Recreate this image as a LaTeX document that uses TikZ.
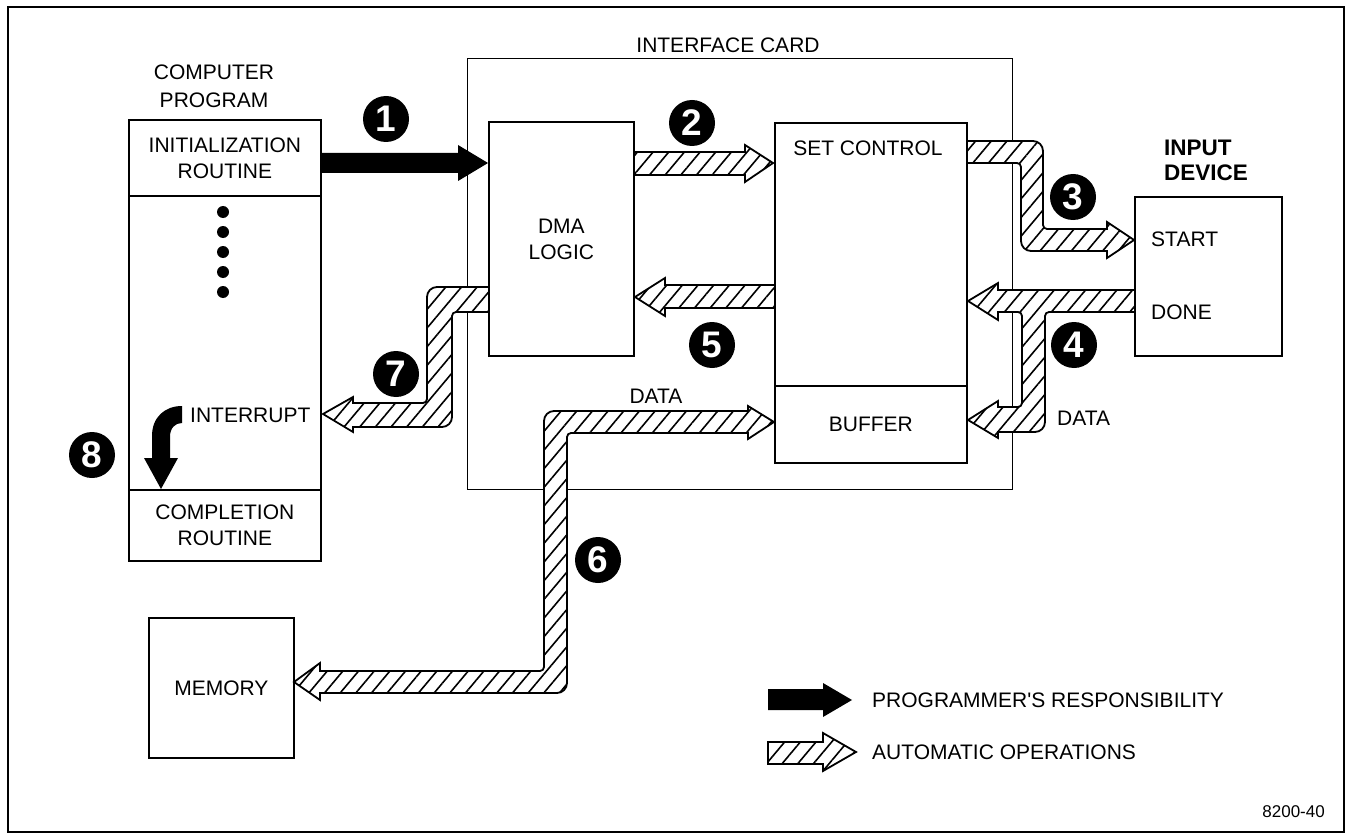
\documentclass[tikz,border=0pt]{standalone}
\usepackage{fontspec}
\setmainfont{Liberation Sans}
\newfontfamily\plainfont{Liberation Sans}[Ligatures=TeXOff]
\usetikzlibrary{patterns.meta}
\newcommand\lblfont{\fontsize{21}{26}\selectfont}
\begin{document}
\begin{tikzpicture}[x=1pt,y=-1pt,
  box/.style={draw, line width=1.8pt, align=center, inner sep=0pt, font=\lblfont, anchor=north west},
  txt/.style={inner sep=0pt, align=center, font=\lblfont},
  num/.style={circle, fill=black, text=white, minimum size=46pt, inner sep=0pt, font=\fontsize{37}{37}\selectfont\bfseries},
  hatch/.style={draw, line width=1.8pt, fill=white, postaction={pattern={Lines[angle=50,distance=12pt,line width=1.6pt]}}},
  solid/.style={fill=black},
  dot/.style={circle, fill=black, minimum size=12pt, inner sep=0pt}
]
\useasboundingbox (0,0) rectangle (1346,837);
\fill[white] (0,0) rectangle (1346,837);
% outer frame
\draw[line width=1.8pt] (8,7) rectangle (1344,832);

% interface card
\node[draw, line width=1.4pt, anchor=north west, minimum width=545pt, minimum height=431pt, inner sep=0pt] (card) at (467,58) {};
\node[txt] (cardlbl) at (728,45) {INTERFACE CARD};

% ---- hatched arrows ----
% 2: DMA -> SET CONTROL
\path[hatch] (633,152) -- (745,152) -- (745,145) -- (773,163) -- (745,182) -- (745,175) -- (633,175);
% 5: SET CONTROL -> DMA
\path[hatch] (774,285) -- (665,285) -- (665,278) -- (635,297) -- (665,316) -- (665,308) -- (774,308);
% 3: SET CONTROL -> START
\path[hatch] (966,141) [rounded corners=10pt] -- (1043,141) -- (1043,190) [rounded corners=4pt] -- (1043,229)
  -- (1080,229) [sharp corners] -- (1107,229) -- (1107,222) -- (1134,240) -- (1107,258) -- (1107,251)
  -- (1080,251) [rounded corners=10pt] -- (1021,251) -- (1021,200) [rounded corners=4pt] -- (1021,163) -- (966,163);
% 4: DONE -> SET CONTROL and BUFFER
\path[hatch] (1134,290) -- (998,290) -- (998,283) -- (968,301) -- (998,320) -- (998,312)
  -- (1010,312) [rounded corners=4pt] -- (1022,312) -- (1022,407) -- (1010,407) [sharp corners]
  -- (998,407) -- (998,401) -- (968,420) -- (998,438) -- (998,432)
  -- (1030,432) [rounded corners=10pt] -- (1045,432) -- (1045,370) [rounded corners=4pt] -- (1045,312) -- (1134,312);
% 7: DMA -> INTERRUPT
\path[hatch] (488,287) [rounded corners=10pt] -- (427,287) -- (427,350) [rounded corners=4pt] -- (427,403)
  -- (390,403) [sharp corners] -- (353,403) -- (353,397) -- (323,414) -- (353,432) -- (353,427)
  -- (390,427) [rounded corners=10pt] -- (452,427) -- (452,370) [rounded corners=4pt] -- (452,312) -- (488,312);
% 6: DATA BUFFER <-> MEMORY
\path[hatch] (774,422) -- (748,406) -- (748,411) -- (700,411) [rounded corners=10pt] -- (544,411)
  -- (544,550) [rounded corners=4pt] -- (544,671) -- (400,671) [sharp corners] -- (320,671)
  -- (320,663) -- (294,682) -- (320,700) -- (320,693) -- (400,693) [rounded corners=10pt] -- (567,693)
  -- (567,550) [rounded corners=4pt] -- (567,433) -- (700,433) [sharp corners] -- (748,433) -- (748,439) -- cycle;

% ---- solid arrows ----
\path[solid] (320,153) -- (458,153) -- (458,145) -- (488,163) -- (458,181) -- (458,173) -- (320,173) -- cycle;
\path[solid] (182,406) .. controls (165,406) and (152,417) .. (152,436) -- (152,458) -- (144,458) -- (161,489)
  -- (178,458) -- (170,458) -- (170,437) .. controls (170,428) and (175,423) .. (182,423) -- cycle;

% ---- boxes ----
\node[box, minimum width=192pt, minimum height=76pt] (init) at (128,119) {INITIALIZATION\\ROUTINE};
\node[box, minimum width=192pt, minimum height=294pt] (prog) at (128,195) {};
\node[box, minimum width=192pt, minimum height=71pt] (compl) at (128,489) {COMPLETION\\ROUTINE};
\node[txt, font=\fontsize{21}{28}\selectfont] (proglbl) at (214,86) {COMPUTER\\PROGRAM};
\node[dot] (d1) at (223,212) {};
\node[dot] (d2) at (223,232) {};
\node[dot] (d3) at (223,252) {};
\node[dot] (d4) at (223,272) {};
\node[dot] (d5) at (223,292) {};
\node[txt, anchor=west] (intr) at (190,415) {INTERRUPT};

\node[box, minimum width=145pt, minimum height=234pt] (dma) at (488,121) {DMA\\LOGIC};
\node[box, minimum width=192pt, minimum height=263pt] (setc) at (774,122) {};
\node[txt] (setclbl) at (868,148) {SET CONTROL};
\node[box, minimum width=192pt, minimum height=77pt] (buf) at (774,385) {BUFFER};

\node[box, minimum width=147pt, minimum height=159pt] (inp) at (1134,196) {};
\node[txt, align=left, anchor=west, font=\fontsize{22.5}{25}\selectfont\bfseries] (inplbl) at (1164,160) {INPUT\\DEVICE};
\node[txt, anchor=west] (start) at (1151,239) {START};
\node[txt, anchor=west] (done) at (1151,312) {DONE};

\node[box, minimum width=145pt, minimum height=140pt] (mem) at (148,617) {MEMORY};

\node[txt] (data1) at (656,396) {DATA};
\node[txt, anchor=west] (data2) at (1057,418) {DATA};

% ---- numbers ----
\node[num] (n1) at (386,119) {1};
\node[num] (n2) at (692,123) {2};
\node[num] (n3) at (1073,197) {3};
\node[num] (n4) at (1074,345) {4};
\node[num] (n5) at (712,345) {5};
\node[num] (n6) at (598,560) {6};
\node[num] (n7) at (396,374) {7};
\node[num] (n8) at (92,455) {8};

% ---- legend ----
\path[solid] (768,689) -- (823,689) -- (823,683) -- (852,700) -- (823,717) -- (823,710) -- (768,710) -- cycle;
\path[hatch] (768,742) -- (823,742) -- (823,733) -- (856,752) -- (823,771) -- (823,764) -- (768,764) -- cycle;
\node[txt, anchor=west, font=\lblfont\plainfont] (leg1) at (872,700) {PROGRAMMER'S RESPONSIBILITY};
\node[txt, anchor=west] (leg2) at (872,752) {AUTOMATIC OPERATIONS};
\node[txt, anchor=east, font=\fontsize{17}{20}\selectfont] (fig) at (1325,812) {8200-40};
\end{tikzpicture}
\end{document}
